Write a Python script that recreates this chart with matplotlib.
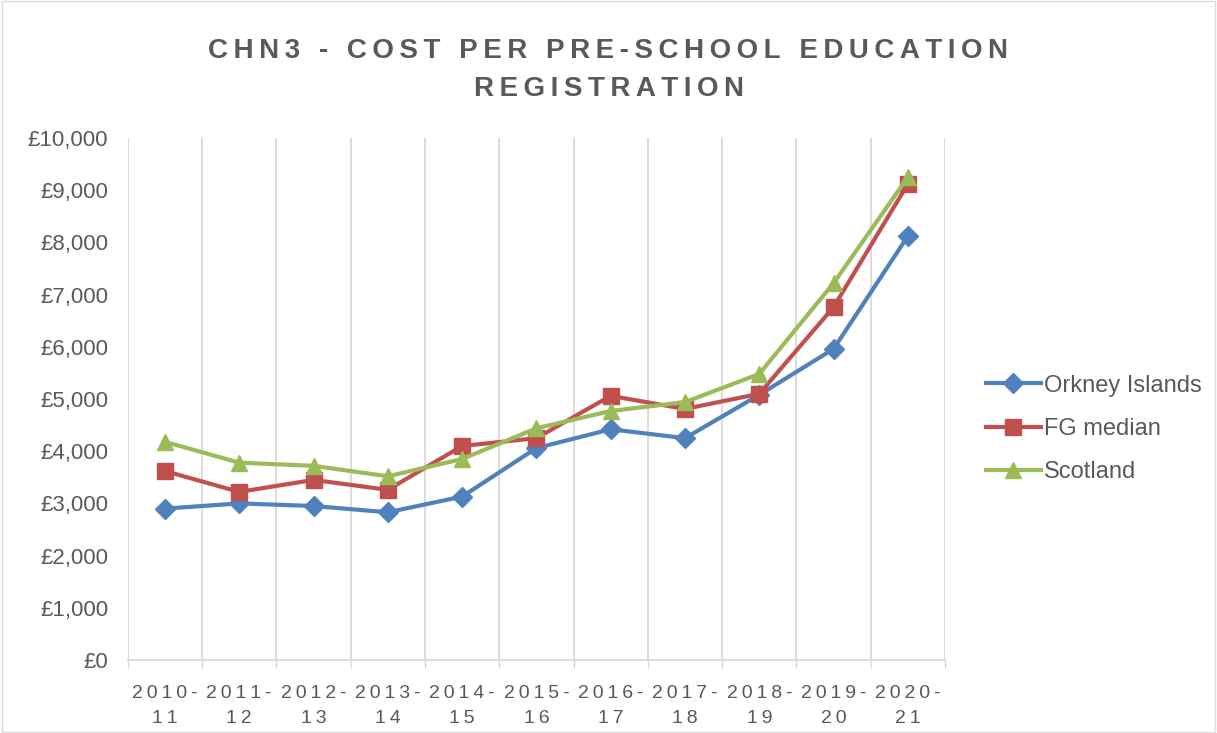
import matplotlib
matplotlib.use("Agg")
import matplotlib.pyplot as plt
import numpy as np
from matplotlib.patches import Rectangle
from matplotlib.ticker import FuncFormatter, FixedLocator

# ==========================
# Data
# ==========================
years = ["2010-11", "2011-12", "2012-13", "2013-14", "2014-15", "2015-16",
         "2016-17", "2017-18", "2018-19", "2019-20", "2020-21"]
orkney = [2900, 3000, 2950, 2830, 3130, 4060, 4420, 4250, 5080, 5960, 8120]
fg_median = [3620, 3220, 3450, 3260, 4100, 4250, 5060, 4810, 5100, 6760, 9120]
scotland = [4180, 3780, 3720, 3520, 3850, 4440, 4770, 4940, 5480, 7220, 9250]

grey = "#595959"
fonts = ["Liberation Sans", "DejaVu Sans"]
plt.rcParams["font.family"] = fonts


def spaced(s, sep="\u2009"):
    return sep.join(s)


fig = plt.figure(figsize=(12.17, 7.33), dpi=100)
ax = fig.add_axes([0.105, 0.0996, 0.6715, 0.7121])

x = np.arange(len(years))
ax.plot(x, orkney, color="#4F81BD", lw=3, marker="D", ms=10, label="Orkney Islands")
ax.plot(x, fg_median, color="#C0504D", lw=3, marker="s", ms=11, label="FG median")
ax.plot(x, scotland, color="#9BBB59", lw=3, marker="^", ms=12, label="Scotland")

ax.set_xlim(-0.5, len(years) - 0.5)
ax.set_ylim(0, 10000)
ax.set_yticks(np.arange(0, 10001, 1000))
ax.yaxis.set_major_formatter(FuncFormatter(lambda v, p: "£{:,.0f}".format(v)))

# category labels at centres, ticks/gridlines at boundaries
ax.set_xticks(x)
ax.set_xticklabels([spaced(y.split("-")[0] + "-") + "\n" + spaced(y.split("-")[1]) for y in years],
                   fontsize=14, color=grey, linespacing=1.6)
ax.xaxis.set_minor_locator(FixedLocator(np.arange(-0.5, len(years), 1.0)))
ax.tick_params(axis="x", which="major", length=0, pad=18)
ax.tick_params(axis="x", which="minor", length=6, color="#D9D9D9", width=1)
ax.tick_params(axis="y", length=0, labelsize=16, labelcolor=grey, pad=14)
ax.grid(axis="x", which="minor", color="#D9D9D9", lw=1.3)
ax.set_axisbelow(True)

for side in ["top", "right", "left"]:
    ax.spines[side].set_visible(False)
ax.spines["bottom"].set_color("#D9D9D9")
ax.spines["bottom"].set_linewidth(1.3)

fig.text(0.5, 0.93, spaced("CHN3 - COST PER PRE-SCHOOL EDUCATION"),
         ha="center", va="center", fontsize=20, fontweight="bold", color=grey)
fig.text(0.5, 0.879, spaced("REGISTRATION"),
         ha="center", va="center", fontsize=20, fontweight="bold", color=grey)

leg = fig.legend(loc="center left", bbox_to_anchor=(0.793, 0.415), frameon=False,
                 fontsize=17, handlelength=2.3, labelspacing=0.9, handletextpad=0.15)
for t in leg.get_texts():
    t.set_color(grey)

fig.patches.append(Rectangle((0.002, 0.002), 0.996, 0.996, transform=fig.transFigure,
                             fill=False, edgecolor="#D9D9D9", lw=1))

plt.savefig("out.png", dpi=100)
